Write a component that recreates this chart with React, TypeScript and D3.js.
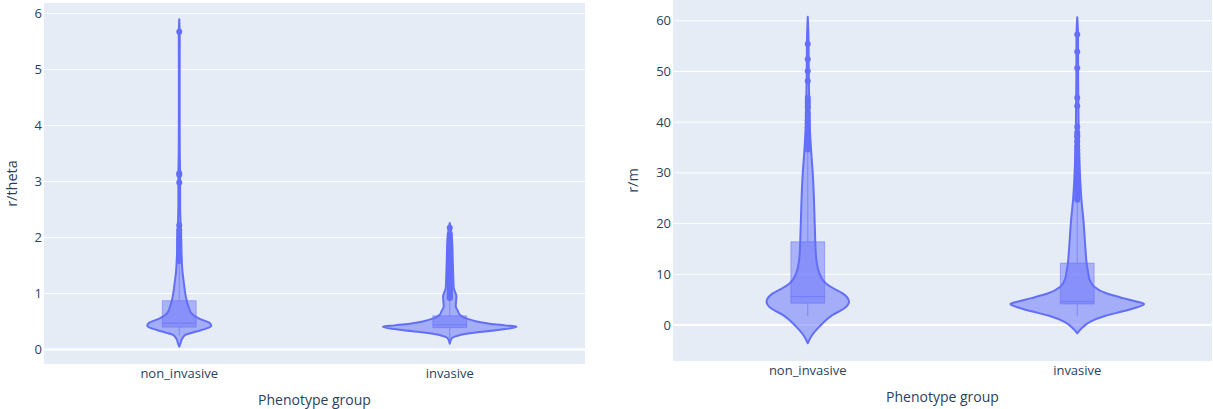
import React from "react";
import * as d3 from "d3";

// Categories and axis ticks
const categories = ["non_invasive", "invasive"];
const thetaTicks = [0, 1, 2, 3, 4, 5, 6];
const mTicks = [0, 10, 20, 30, 40, 50, 60];

// r/theta — non_invasive: density profile (value level -> relative half width)
const thetaNonLevels = [0.05, 0.12, 0.17, 0.26, 0.32, 0.38, 0.425, 0.48, 0.55, 0.65, 0.75, 0.9, 1.0, 1.2, 1.4, 1.6, 1.8, 2.0, 2.3, 2.6, 3.0, 3.2, 3.5, 4.0, 5.0, 5.6, 5.9];
const thetaNonDensity = [0, 0.022, 0.034, 0.089, 0.252, 0.415, 0.474, 0.444, 0.296, 0.178, 0.141, 0.104, 0.089, 0.067, 0.047, 0.037, 0.03, 0.027, 0.018, 0.013, 0.013, 0.012, 0.008, 0.006, 0.006, 0.007, 0];
// lower fence, q1, median, q3, upper fence
const thetaNonBox = [0.25, 0.4, 0.47, 0.87, 1.55];
const thetaNonOutliers = [5.675, 3.146, 3.12, 2.985, 2.22, 2.13, 2.07, 2.02, 1.97, 1.93, 1.88, 1.84, 1.8, 1.76, 1.72, 1.68, 1.65, 1.61, 1.58];

// r/theta — invasive
const thetaInvLevels = [0.1, 0.2, 0.23, 0.29, 0.35, 0.407, 0.43, 0.46, 0.5, 0.55, 0.62, 0.68, 0.77, 0.85, 0.95, 1.02, 1.1, 1.3, 1.6, 1.9, 2.1, 2.26];
const thetaInvDensity = [0, 0.03, 0.074, 0.296, 0.741, 0.988, 0.815, 0.593, 0.4, 0.252, 0.148, 0.123, 0.089, 0.093, 0.099, 0.081, 0.059, 0.052, 0.044, 0.037, 0.022, 0];
const thetaInvBox = [0.12, 0.39, 0.44, 0.6, 0.91];
const thetaInvOutliers = [2.175, 2.06, 2.01, 1.97, 1.92, 1.88, 1.85, 1.8, 1.77, 1.72, 1.69, 1.65, 1.6, 1.57, 1.53, 1.48, 1.45, 1.41, 1.36, 1.33, 1.29, 1.25, 1.2, 1.17, 1.13, 1.1, 1.07, 1.04, 1.01, 0.98, 0.96, 0.94, 0.93, 0.92];

// r/m — non_invasive
const mNonLevels = [-3.6, -2.3, -0.33, 2.0, 3.3, 4.6, 6.24, 7.2, 8.2, 10.2, 13.5, 18, 22, 26, 30, 34, 38, 44, 50, 56, 60.8];
const mNonDensity = [0, 0.049, 0.173, 0.37, 0.544, 0.612, 0.519, 0.385, 0.271, 0.173, 0.123, 0.108, 0.099, 0.089, 0.074, 0.052, 0.034, 0.022, 0.015, 0.012, 0];
const mNonBox = [1.8, 4.3, 5.6, 16.4, 34.2];
const mNonOutliers = [55.4, 52.4, 50.1, 48.1, 44.8, 44.3, 43.8, 43.2, 42.8, 41.8, 41.2, 40.4, 39.8, 39.0, 38.3, 37.6, 37.0, 36.3, 35.7, 35.1, 34.6];

// r/m — invasive
const mInvLevels = [-1.64, -0.75, 0.55, 1.86, 2.7, 3.5, 4.14, 4.7, 5.3, 6.25, 7.56, 8.9, 10.2, 12, 15.5, 20, 25.3, 28.6, 32, 36, 42, 50, 57, 60.7];
const mInvDensity = [0, 0.059, 0.182, 0.43, 0.677, 0.889, 0.993, 0.859, 0.681, 0.43, 0.252, 0.185, 0.163, 0.141, 0.119, 0.096, 0.059, 0.044, 0.033, 0.024, 0.018, 0.013, 0.012, 0];
const mInvBox = [1.8, 4.15, 4.6, 12.2, 24.3];
const mInvOutliers = [57.3, 53.9, 50.7, 44.8, 43.2, 39.1, 37.9, 37.4, 37.1, 36.2, 35.2, 34.5, 33.8, 33.0, 32.4, 31.8, 31.1, 30.5, 30.0, 29.4, 28.9, 28.3, 27.8, 27.2, 26.7, 26.2, 25.6, 25.1, 24.7];

const COLOR = "#636efa";
const FONT = "'Open Sans', verdana, arial, sans-serif";
const TEXT = "#2a3f5f";

type Violin = {
  category: string;
  levels: number[];
  density: number[];
  box: number[];
  outliers: number[];
};

type PanelProps = {
  left: number;
  right: number;
  top: number;
  bottom: number;
  yDomain: [number, number];
  ticks: number[];
  yTitle: string;
  yTitleX: number;
  violins: Violin[];
};

function Panel({ left, right, top, bottom, yDomain, ticks, yTitle, yTitleX, violins }: PanelProps) {
  const x = d3.scaleBand<string>().domain(categories).range([left, right]);
  const y = d3.scaleLinear().domain(yDomain).range([bottom, top]);
  const halfBand = x.bandwidth() / 2;
  // violins occupy half of each category band
  const violinHalf = halfBand / 2;
  const w = d3.scaleLinear().domain([0, 1]).range([0, violinHalf]);
  const boxHalf = violinHalf * 0.25;

  return (
    <g>
      <rect x={left} y={top} width={right - left} height={bottom - top} fill="#E5ECF6" />
      {ticks.map((t) => (
        <line
          key={"g" + t}
          x1={left}
          x2={right}
          y1={y(t)}
          y2={y(t)}
          stroke="#ffffff"
          strokeWidth={t === 0 ? 2 : 1}
        />
      ))}
      {ticks.map((t) => (
        <text
          key={"t" + t}
          x={left - 2}
          y={y(t)}
          dy="0.35em"
          textAnchor="end"
          fontFamily={FONT}
          fontSize={13}
          fill={TEXT}
        >
          {t}
        </text>
      ))}
      {categories.map((c) => (
        <text
          key={"c" + c}
          x={(x(c) as number) + halfBand}
          y={bottom + 5}
          dy="0.71em"
          textAnchor="middle"
          fontFamily={FONT}
          fontSize={13}
          fill={TEXT}
        >
          {c}
        </text>
      ))}
      <text
        x={(left + right) / 2}
        y={bottom + 41}
        textAnchor="middle"
        fontFamily={FONT}
        fontSize={14}
        fill={TEXT}
      >
        Phenotype group
      </text>
      <text
        transform={`translate(${yTitleX},${(top + bottom) / 2}) rotate(-90)`}
        dy="0.35em"
        textAnchor="middle"
        fontFamily={FONT}
        fontSize={14.5}
        fill={TEXT}
      >
        {yTitle}
      </text>
      {violins.map((v) => {
        const cx = (x(v.category) as number) + halfBand;
        const pts = v.levels.map((l, i) => ({ l, d: v.density[i] }));
        const area = d3
          .area<{ l: number; d: number }>()
          .y((p) => y(p.l))
          .x0((p) => cx - w(p.d))
          .x1((p) => cx + w(p.d))
          .curve(d3.curveMonotoneY);
        const [lo, q1, med, q3, hi] = v.box;
        return (
          <g key={v.category}>
            <path d={area(pts) || ""} fill={COLOR} fillOpacity={0.5} stroke={COLOR} strokeWidth={2} strokeLinejoin="round" />
            <line x1={cx} x2={cx} y1={y(lo)} y2={y(q1)} stroke={COLOR} strokeOpacity={0.6} strokeWidth={1} />
            <line x1={cx} x2={cx} y1={y(q3)} y2={y(hi)} stroke={COLOR} strokeOpacity={0.6} strokeWidth={1} />
            <rect
              x={cx - boxHalf}
              y={y(q3)}
              width={boxHalf * 2}
              height={y(q1) - y(q3)}
              fill={COLOR}
              fillOpacity={0.45}
              stroke={COLOR}
              strokeOpacity={0.5}
              strokeWidth={1}
            />
            <line x1={cx - boxHalf} x2={cx + boxHalf} y1={y(med)} y2={y(med)} stroke={COLOR} strokeOpacity={0.6} strokeWidth={1} />
            {v.outliers.map((o, i) => (
              <circle key={i} cx={cx} cy={y(o)} r={3} fill={COLOR} />
            ))}
          </g>
        );
      })}
    </g>
  );
}

export default function App() {
  const thetaViolins: Violin[] = [
    { category: categories[0], levels: thetaNonLevels, density: thetaNonDensity, box: thetaNonBox, outliers: thetaNonOutliers },
    { category: categories[1], levels: thetaInvLevels, density: thetaInvDensity, box: thetaInvBox, outliers: thetaInvOutliers },
  ];
  const mViolins: Violin[] = [
    { category: categories[0], levels: mNonLevels, density: mNonDensity, box: mNonBox, outliers: mNonOutliers },
    { category: categories[1], levels: mInvLevels, density: mInvDensity, box: mInvBox, outliers: mInvOutliers },
  ];
  return (
    <svg
      width={1213}
      height={409}
      style={{ position: "absolute", left: 0, top: 0, background: "#ffffff" }}
    >
      <Panel
        left={44}
        right={585}
        top={3}
        bottom={364}
        yDomain={[-0.26, 6.19]}
        ticks={thetaTicks}
        yTitle="r/theta"
        yTitleX={12}
        violins={thetaViolins}
      />
      <Panel
        left={673}
        right={1212}
        top={0}
        bottom={361}
        yDomain={[-7.1, 64.1]}
        ticks={mTicks}
        yTitle="r/m"
        yTitleX={633}
        violins={mViolins}
      />
    </svg>
  );
}
